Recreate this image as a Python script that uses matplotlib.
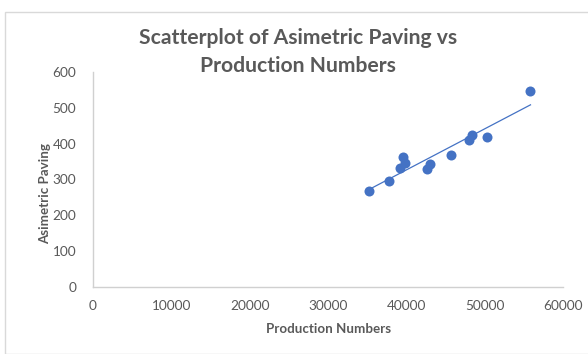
import numpy as np
import matplotlib
matplotlib.use("Agg")
import matplotlib.pyplot as plt
from matplotlib.patches import Rectangle

production = [35200, 37800, 39200, 39600, 39800, 42600, 43000, 45700, 48050, 48350, 50350, 55850]
paving = [269, 295, 331, 362, 347, 329, 342, 368, 411, 423, 418, 547]
x_ticks = [0, 10000, 20000, 30000, 40000, 50000, 60000]
y_ticks = [0, 100, 200, 300, 400, 500, 600]

plt.rcParams['font.family'] = ['Lato', 'DejaVu Sans']
gray = '#595959'
blue = '#4472C4'

fig = plt.figure(figsize=(5.88, 3.54), dpi=100)
fig.patches.append(Rectangle((5/588, 0), 1.0, 1 - 12/354, transform=fig.transFigure,
                             fill=False, edgecolor='#d9d9d9', linewidth=1.0))
ax = fig.add_axes([93/588, 1 - 287/354, (563 - 93)/588, (287 - 72)/354])

ax.scatter(production, paving, s=52, color=blue, zorder=3, linewidths=0)
coef = np.polyfit(production, paving, 1)
xs = np.array([min(production), max(production)])
ax.plot(xs, np.polyval(coef, xs), color=blue, linewidth=0.9, zorder=2)

ax.set_xlim(0, 60000)
ax.set_ylim(0, 600)
ax.set_xticks(x_ticks)
ax.set_yticks(y_ticks)
ax.tick_params(length=0, labelsize=9.8, colors=gray, pad=9)
ax.tick_params(axis='y', pad=12)
for s in ['top', 'right']:
    ax.spines[s].set_visible(False)
for s in ['left', 'bottom']:
    ax.spines[s].set_color('#d0d0d0')
    ax.spines[s].set_linewidth(1.0)

ax.set_xlabel('Production Numbers', fontsize=9.6, fontweight='bold', color=gray)
ax.xaxis.set_label_coords((329 - 93) / 470, -(329 - 287) / 215)
ax.set_ylabel('Asimetric Paving', fontsize=9.6, fontweight='bold', color=gray)
ax.yaxis.set_label_coords(-(93 - 45) / 470, (287 - 193) / 215)
ax.xaxis.label.set_va('center')
ax.yaxis.label.set_va('center')

fig.text(298/588, 1 - 52/354, 'Scatterplot of Asimetric Paving vs\nProduction Numbers',
         ha='center', va='center', fontsize=15.2, fontweight='bold', color=gray, linespacing=1.45)

fig.savefig('out.png', dpi=100, facecolor='white')
